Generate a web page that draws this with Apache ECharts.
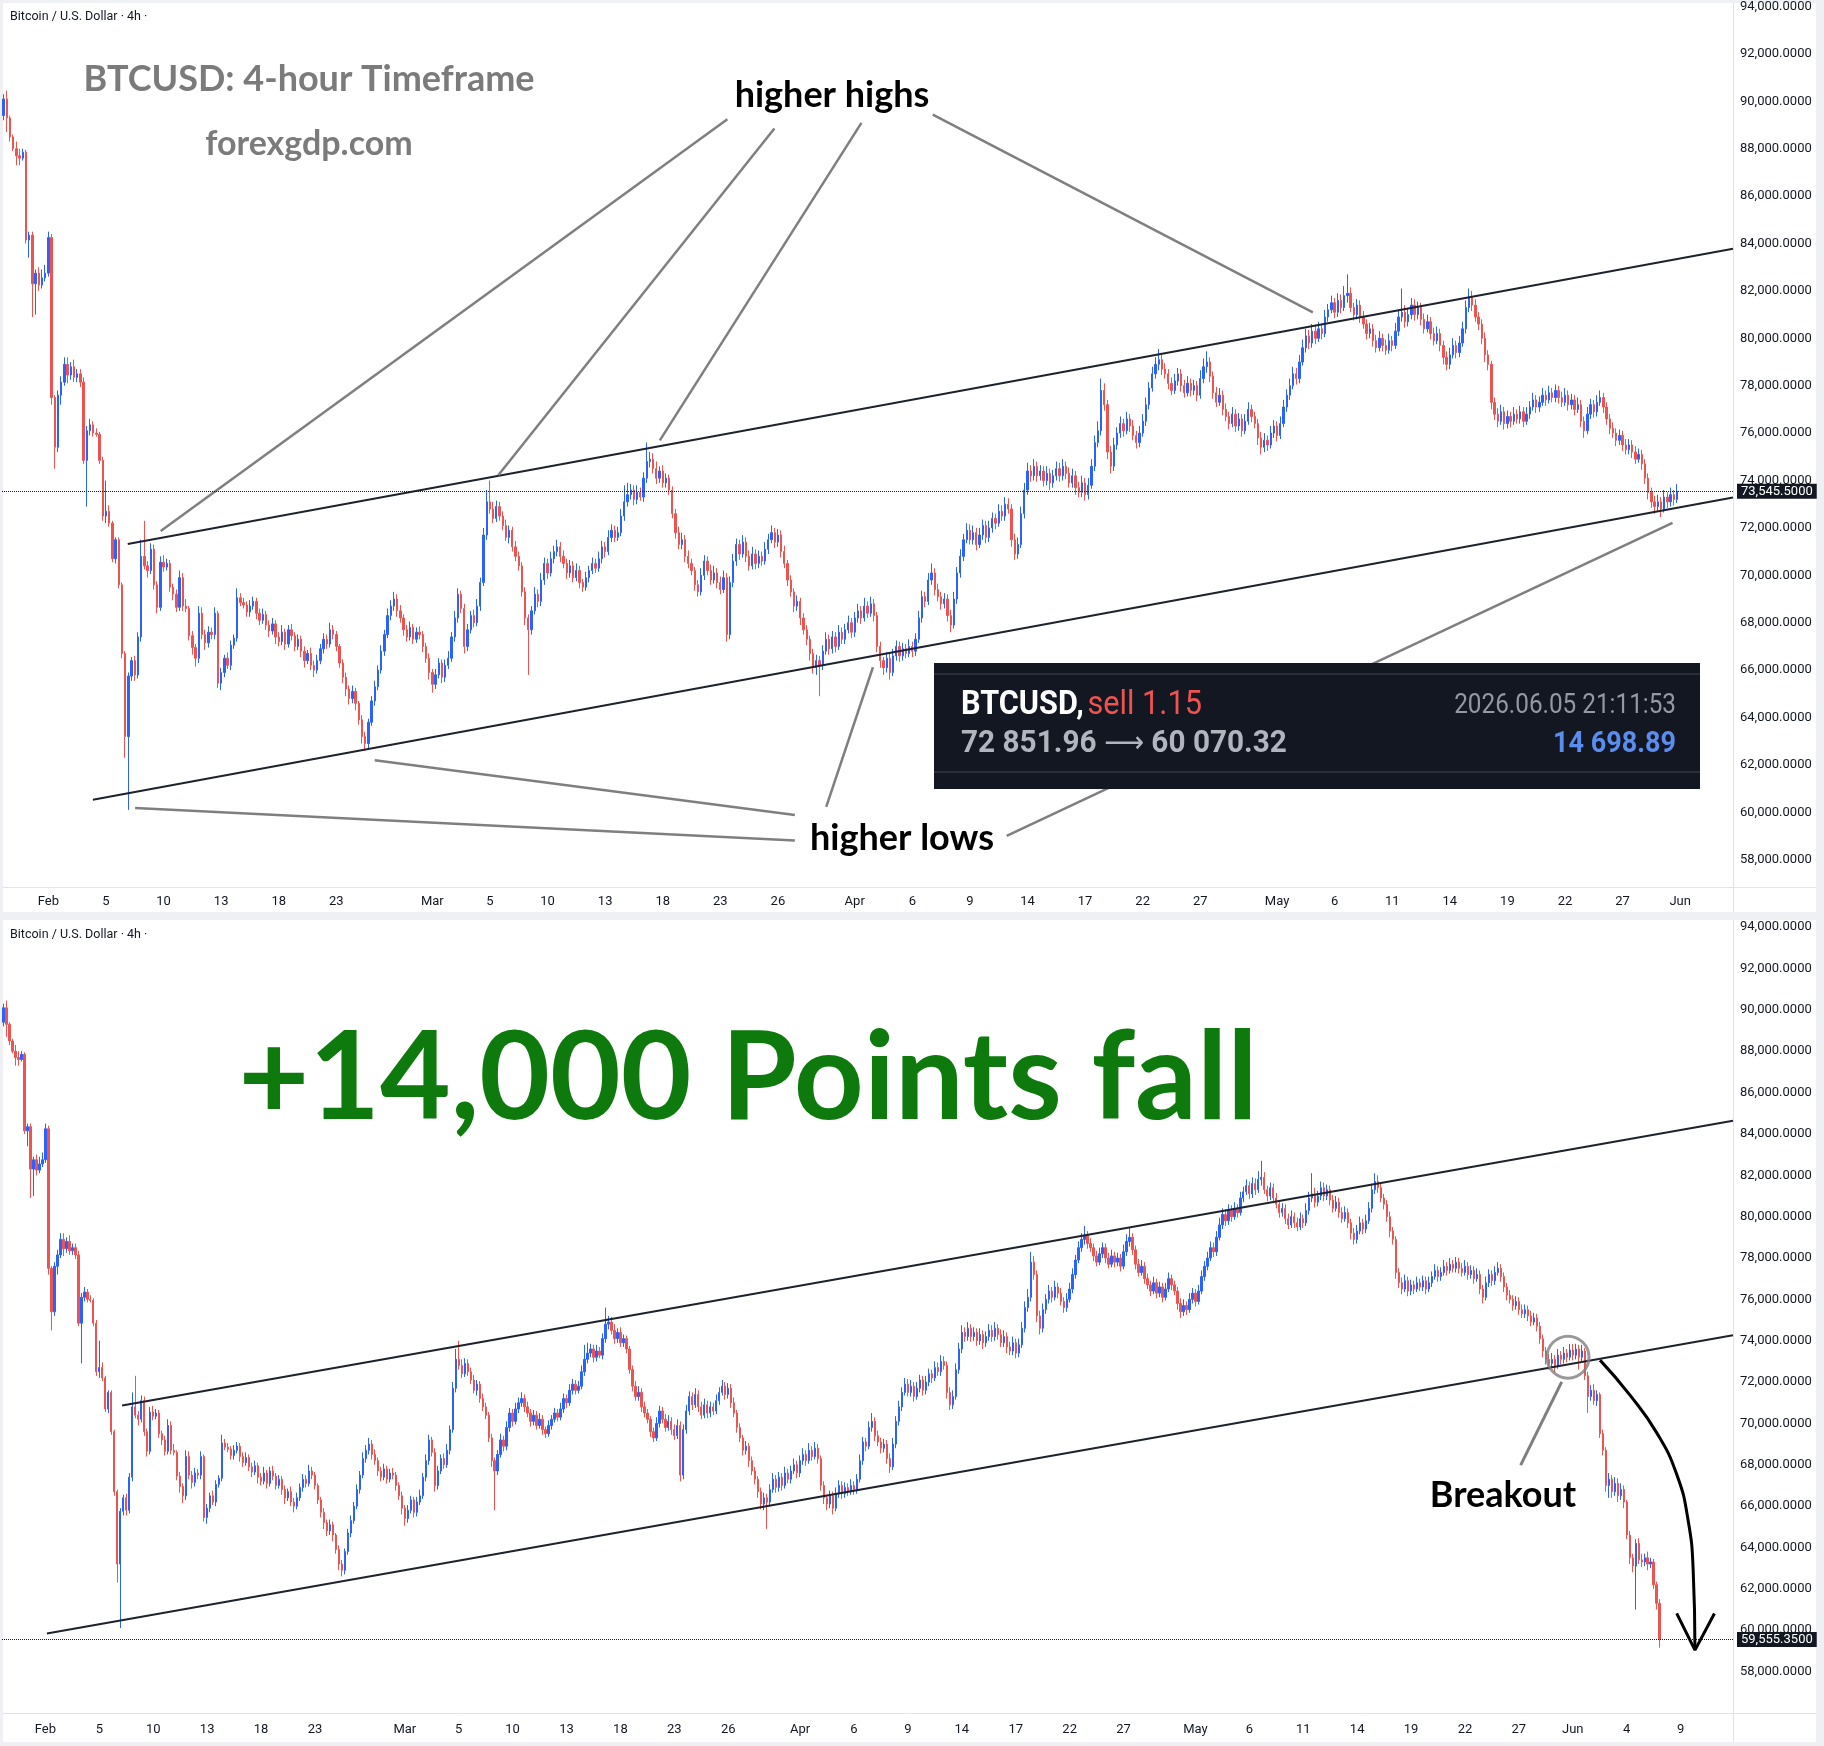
<!DOCTYPE html>
<html><head><meta charset="utf-8">
<script src="https://cdn.jsdelivr.net/npm/echarts@6/dist/echarts.min.js"></script>
<style>html,body{margin:0;padding:0;background:#eef0f3}#chart{width:1824px;height:1746px}</style>
</head><body><div id="chart"></div>
<script>
// ---------------- DATA (4h candles, weekdays, from 2026-01-28 16:00) ----------------
const firstOpen = 89400;
const closes = [
90100,89300,88500,88000,87700,87600,87850,84150,84350,82300,
82750,82250,82550,82750,84250,77500,75400,77600,78150,78900,
78450,78800,78350,78500,78150,74850,76100,76350,76000,75950,
74850,72500,72700,72200,70700,71500,69600,66700,63200,65750,
66400,65800,67400,70800,70400,70200,71100,69600,68650,70550,
70350,70500,69500,69200,68650,69900,68700,68600,67450,66950,
66500,68400,67500,67150,67600,67500,68400,65450,65900,66500,
66200,67050,67350,69050,68850,68750,68450,68700,68900,68400,
68100,68350,67900,67650,67950,67400,67200,67600,67100,67700,
67450,67000,67300,66800,66400,66700,66200,66000,66400,66900,
67300,67100,67700,67500,67000,66300,65700,65200,64800,65100,
64600,63900,63200,62900,63800,64700,65300,66000,66800,67500,
68300,68700,69000,68500,68200,67700,67400,67800,67300,67600,
67500,67000,66500,65900,65400,65800,66300,65700,66200,66500,
67400,68200,69200,68600,67000,67700,68300,68000,68700,69700,
71700,73100,72800,72400,72900,72500,72100,71600,71900,71200,
70800,70400,69300,68200,67700,68500,69200,68900,69800,70500,
70100,70700,71000,71200,70800,70500,70100,70400,69900,70200,
69700,69500,69900,70200,70500,70300,70700,71200,71000,71600,
71900,71600,71800,72500,73100,73400,73600,73200,73500,73300,
74100,74800,74900,74500,74100,74400,73900,74100,73600,72600,
71800,71300,71500,70800,70500,70200,69600,69300,70000,70600,
70200,69800,70100,69700,69400,69900,67500,69700,70600,71300,
70900,71400,70800,70400,70900,70500,70800,70600,71100,71500,
71800,71400,71700,71000,70500,69800,69300,68700,68900,68200,
67700,67300,66700,66100,66400,66200,66800,67300,66900,67400,
67000,67600,67300,67700,68000,67600,68200,68500,68200,68700,
68400,68800,68300,67000,66400,66100,66500,65900,66600,67000,
66600,66900,66700,67000,66800,67300,68200,69100,68900,69800,
70100,69400,69100,68800,69000,68300,67900,69000,70100,70800,
71500,71900,71500,71800,71300,71700,72100,71600,72000,72400,
72200,72700,72500,73000,72800,71500,70900,71300,72600,73600,
74400,74200,74600,74200,74400,74000,74300,73900,74200,74500,
74200,74600,74300,73900,74200,73700,73500,73900,73400,73800,
74600,75600,76100,77800,77200,75200,74600,75500,76000,76400,
76100,76600,76300,75900,75600,76000,76500,77200,77900,78500,
78900,79100,78700,78500,78100,77800,78200,78500,78000,77700,
78100,77800,78000,77600,78300,78800,79000,78400,77700,77300,
77600,77000,76700,76400,76800,76300,76600,76100,76500,77000,
76700,76400,75800,75400,75700,75500,76000,76300,75900,76400,
77100,77600,78000,78500,78300,79000,79600,80100,79800,80300,
80000,80400,80200,80900,81200,81500,81100,81600,81300,81800,
81900,81300,81000,81400,80900,80600,80200,80400,79900,79600,
80000,79700,79500,79900,79700,80300,80900,81100,80700,81000,
81400,81000,81300,80800,80400,80700,80200,79900,80200,79700,
79200,78900,79300,79700,79400,79800,80400,81300,81700,81400,
80900,80600,80000,79300,78900,77300,76800,76500,76900,76400,
76700,76500,76800,76600,76900,76500,76800,77100,77400,77100,
77300,77600,77400,77700,77500,77800,77500,77300,77600,77200,
77400,77000,77200,76500,76100,76800,77200,76900,77300,77500,
77100,76600,76200,76000,75700,75900,75500,75300,75500,75200,
74900,75100,74700,74100,73500,73100,72900,73100,72800,73300,
73100,73400,73200,73545.5,73300,73600,73200,73500,72300,71300,
71600,71100,71400,69500,68700,67000,67300,66700,67100,66500,
66800,66200,64600,63500,63100,64200,63400,63300,63500,63200,
63300,62200,61300,59555.35
];
const upWick = [
200,350,100,100,300,300,150,100,150,150,
150,250,350,350,250,150,100,200,250,300,
300,200,300,200,200,200,200,250,150,200,
100,150,1300,250,100,100,100,100,100,150,
150,200,200,700,1500,200,250,200,150,250,
300,200,150,150,200,300,200,300,100,200,
150,300,250,200,250,200,250,100,200,150,
250,200,150,400,200,200,150,250,200,150,
200,250,150,200,250,150,200,300,150,200,
250,150,200,150,200,150,250,200,250,200,
250,200,300,200,150,100,150,200,150,250,
150,100,200,200,150,200,250,200,250,200,
300,250,300,200,250,150,200,250,150,200,
250,150,150,200,150,250,200,150,250,300,
200,300,250,150,200,250,200,250,300,200,
300,500,900,300,250,200,200,250,200,150,
250,200,150,200,150,200,300,200,300,250,
200,300,250,300,200,250,200,250,200,300,
200,150,250,200,250,200,300,250,200,300,
250,200,250,300,700,500,250,200,300,200,
250,800,300,250,300,200,250,200,150,150,
200,250,300,200,250,200,150,200,300,250,
200,250,300,200,250,300,200,250,300,250,
200,300,200,250,300,200,250,200,300,250,
300,200,250,200,250,150,200,150,250,150,
200,200,150,200,250,200,250,300,200,250,
200,300,200,250,300,200,250,300,200,350,
200,300,200,150,200,150,250,200,300,250,
200,250,200,300,200,250,300,250,200,300,
400,200,250,200,250,200,250,300,250,300,
250,300,250,300,200,300,250,200,300,250,
200,300,250,300,250,200,250,300,300,300,
350,250,300,200,250,200,300,200,250,300,
250,300,200,250,300,200,250,300,200,300,
300,300,400,500,300,200,250,300,250,300,
200,300,200,250,200,300,300,300,250,300,
300,450,200,250,200,250,300,250,200,250,
300,200,250,200,350,350,450,200,200,250,
300,200,250,200,300,200,250,200,300,300,
200,200,200,250,300,200,300,250,200,300,
300,250,300,300,250,300,350,300,250,300,
250,300,200,300,250,300,200,300,250,400,
800,250,200,250,200,250,200,250,200,250,
300,200,250,300,200,350,300,1000,300,250,
300,250,250,200,250,300,200,250,300,200,
200,250,300,300,200,300,300,300,400,300,
250,200,200,250,200,150,200,250,300,200,
250,200,300,200,250,200,300,250,300,200,
250,300,200,300,200,250,200,250,300,200,
250,200,300,200,200,300,250,200,300,300,
200,200,200,250,200,250,200,250,250,200,
250,250,200,200,200,200,250,300,200,300,
200,300,200,300,300,250,200,300,150,200,
250,300,200,100,200,150,300,200,300,250,
300,200,100,200,200,200,250,300,200,300,
200,150,150,200
];
const downWick = [
200,600,200,100,400,300,100,150,750,1400,
1300,250,150,150,150,300,900,200,400,150,
350,200,200,200,200,150,1950,200,150,100,
150,200,300,150,150,200,150,200,900,3100,
200,250,150,200,150,300,150,200,250,150,
200,150,200,250,200,150,200,150,200,300,
350,200,200,300,200,200,200,200,300,200,
150,200,150,150,150,150,200,200,150,250,
200,150,200,250,150,300,200,150,250,150,
200,200,150,250,300,150,200,300,150,150,
200,200,150,200,200,200,250,300,250,200,
300,200,300,300,200,150,200,150,150,200,
150,200,200,250,200,250,200,150,200,150,
200,250,200,300,350,200,150,250,200,150,
150,200,200,200,300,200,150,200,150,200,
150,200,200,200,150,200,200,150,250,200,
200,200,200,300,1900,200,150,250,200,200,
250,150,200,200,250,200,250,200,200,150,
250,200,150,200,150,200,150,200,250,150,
200,200,150,150,200,200,200,250,200,150,
200,200,250,200,250,200,200,200,200,200,
250,200,200,250,200,200,250,200,150,200,
200,200,150,250,200,150,300,200,200,200,
250,150,250,200,150,250,200,200,150,200,
150,250,200,250,200,250,200,250,200,300,
200,250,300,250,300,1300,200,150,250,200,
250,150,200,200,150,250,200,200,250,150,
200,150,250,250,300,300,200,300,150,200,
250,200,200,150,250,200,150,200,250,150,
200,250,200,250,200,250,300,150,200,200,
200,150,200,200,250,150,200,250,200,200,
250,150,200,200,200,300,250,200,150,200,
200,250,200,250,200,250,200,300,200,200,
250,200,250,200,200,300,200,200,250,200,
150,200,200,200,250,300,300,200,200,200,
250,150,250,200,250,200,150,200,200,150,
200,250,250,200,250,200,150,200,250,200,
150,250,200,250,150,200,250,250,250,200,
150,250,200,250,150,250,200,250,150,150,
250,200,300,300,200,250,150,200,250,150,
150,200,200,150,250,200,150,200,250,200,
250,150,250,150,200,150,250,200,250,150,
300,200,250,200,250,200,250,200,250,200,
150,250,200,150,250,150,200,200,250,200,
200,250,200,250,200,150,250,200,150,250,
300,250,200,150,250,200,150,200,200,250,
200,250,250,300,250,300,250,250,150,250,
200,250,150,200,200,250,150,200,150,250,
200,150,250,150,200,200,250,200,150,250,
200,250,150,250,300,150,200,250,200,150,
250,250,250,200,250,200,250,200,200,250,
200,150,250,250,300,250,300,200,350,150,
250,200,250,150,250,200,600,200,200,800,
200,200,250,200,250,300,600,300,200,300,
200,300,200,300,300,2100,200,250,200,300,
200,200,300,400
];
const TOP_COUNT = 524;   // candles shown in the upper panel (to 29 May)
const N_TOP = 541, N_BOT = 578; // category slots incl. right margin

const tickDays = ['2026-02-02','2026-02-05','2026-02-10','2026-02-13','2026-02-18','2026-02-23',
 '2026-03-02','2026-03-05','2026-03-10','2026-03-13','2026-03-18','2026-03-23','2026-03-26',
 '2026-04-01','2026-04-06','2026-04-09','2026-04-14','2026-04-17','2026-04-22','2026-04-27',
 '2026-05-01','2026-05-06','2026-05-11','2026-05-14','2026-05-19','2026-05-22','2026-05-27',
 '2026-06-01','2026-06-04','2026-06-09'];
const tickTexts = ['Feb','5','10','13','18','23','Mar','5','10','13','18','23','26',
 'Apr','6','9','14','17','22','27','May','6','11','14','19','22','27','Jun','4','9'];

// annotations: [candle index, price]
const topUpperChannel = [[38.8, 71320], [540.5, 83778]];
const topLowerChannel = [[27.9, 60530], [540.5, 73280]];
const topHighPointers = [
  [[226.2, 89240], [49.1, 71865]],
  [[240.9, 88850], [154.6, 74220]],
  [[268.1, 89090], [205.1, 75690]],
  [[290.4, 89440], [409.2, 81090]]
];
const topLowPointers = [
  [[41.1, 60180], [247.3, 58810]],
  [[116.0, 62200], [247.3, 59890]],
  [[257.1, 60230], [271.7, 66120]],
  [[313.5, 59010], [521.6, 72210]]
];
const botUpperChannel = [[39.6, 70870], [577.5, 84633]];
const botLowerChannel = [[14.5, 59845], [577.5, 74269]];
const botCircle = [522.4, 73205];
const botBreakoutPointer = [[520.3, 72011], [506.6, 67983]];
const botArrowCurve = [[533.1,73060],[543.1,71367],[552.1,69530],[558.8,67499],[562.5,65323],[564.2,62905],[564.8,59036]];
const botArrowHead = [[558.7,60810],[564.8,59036],[571.3,60810]];

// ---------------- BUILD ----------------
const UP = '#2962ff', DOWN = '#ef5350';
function buildCategories(n){
  const cats = []; let d = new Date(Date.UTC(2026,0,28)); let slot = 4;
  while (cats.length < n){
    const dow = d.getUTCDay();
    if (dow !== 0 && dow !== 6){
      for (; slot < 6 && cats.length < n; slot++){
        cats.push(d.toISOString().slice(0,10) + ' ' + String(slot*4).padStart(2,'0') + ':00');
      }
      slot = 0;
    }
    d = new Date(d.getTime() + 86400000);
  }
  return cats;
}
const tickMap = new Map();
tickDays.forEach((d,i)=>tickMap.set(d+' 00:00', tickTexts[i]));
function buildOHLC(n){
  const out = [];
  for (let i=0;i<n;i++){
    const o = i===0 ? firstOpen : closes[i-1];
    const c = closes[i];
    out.push([o, c, Math.min(o,c)-downWick[i], Math.max(o,c)+upWick[i]]);
  }
  return out;
}
const fmtPrice = v => { const s = Number(v).toFixed(4).split('.'); return s[0].replace(/\B(?=(\d{3})+(?!\d))/g, ',') + '.' + s[1]; };

const catsTop = buildCategories(N_TOP), catsBot = buildCategories(N_BOT);
const ohlcTop = buildOHLC(TOP_COUNT), ohlcBot = buildOHLC(closes.length);
const lastTop = closes[TOP_COUNT-1], lastBot = closes[closes.length-1];

const FONT = 'Roboto, "Liberation Sans", sans-serif';
const xCat = (grid, cats, offset, margin) => ({
  type:'category', gridIndex:grid, data:cats, boundaryGap:true, offset:offset,
  axisLine:{show:false}, axisTick:{show:false}, splitLine:{show:false},
  axisLabel:{interval:(i,v)=>tickMap.has(v), formatter:v=>tickMap.get(v)||'', margin:margin,
    color:'#131722', fontSize:13, fontFamily:FONT}
});
const xVal = (grid, n) => ({type:'value', gridIndex:grid, min:-0.5, max:n-0.5, show:false});
const yAx = (grid, max, showMax) => ({
  type:'value', gridIndex:grid, position:'right', min:56000, max:max, interval:2000, scale:false,
  splitLine:{show:false}, axisLine:{show:false}, axisTick:{show:false},
  axisLabel:{showMinLabel:false, showMaxLabel:showMax, margin:7, align:'left', color:'#131722',
    fontSize:13, fontFamily:FONT, formatter:fmtPrice}
});
const candle = (xi, yi, data, last) => ({
  type:'candlestick', xAxisIndex:xi, yAxisIndex:yi, data:data, barWidth:1.8, large:false, silent:true,
  itemStyle:{color:UP, color0:DOWN, borderColor:UP, borderColor0:DOWN, borderWidth:1},
  markLine:{silent:true, symbol:['none','none'], animation:false,
    lineStyle:{type:'dotted', color:'#131722', width:1},
    label:{show:true, position:'end', distance:4, formatter:()=>fmtPrice(last), backgroundColor:'#131722',
      color:'#ffffff', fontSize:13, fontFamily:FONT, padding:[1,4,1,4]},
    data:[{yAxis:last}]}
});
const seg = (xi, yi, pairs, color, width) => ({
  type:'lines', coordinateSystem:'cartesian2d', xAxisIndex:xi, yAxisIndex:yi, silent:true, z:3,
  lineStyle:{color:color, width:width, opacity:1, curveness:0},
  data: pairs.map(p=>({coords:p}))
});
const polyline = (xi, yi, pts, color, width, smooth) => ({
  type:'line', xAxisIndex:xi, yAxisIndex:yi, data:pts, symbol:'none', silent:true, smooth:smooth||false, z:4,
  lineStyle:{color:color, width:width}
});

const TXT = 'Lato, "Open Sans", sans-serif';
const text = (x, y, str, size, color, extra) => Object.assign({
  type:'text', x:x, y:y, silent:true, z:20,
  style:{text:str, fill:color, fontSize:size, fontWeight:'bold', fontFamily:TXT, align:'center', verticalAlign:'middle'}
}, extra||{});

const option = {
  animation:false,
  backgroundColor:'#eef0f3',
  grid:[
    {left:2, top:6.1, width:1731, height:901},
    {left:2, top:885.8, width:1731, height:827.1}
  ],
  xAxis:[ xCat(0, catsTop, -19.5, 8), xVal(0, N_TOP), xCat(1, catsBot, 0, 10), xVal(1, N_BOT) ],
  yAxis:[ yAx(0, 94000, true), yAx(1, 96000, false) ],
  series:[
    candle(0, 0, ohlcTop, lastTop),
    seg(1, 0, [topUpperChannel, topLowerChannel], '#1e222d', 2),
    seg(1, 0, topHighPointers.concat(topLowPointers), '#7f7f7f', 2.5),
    candle(2, 1, ohlcBot, lastBot),
    seg(3, 1, [botUpperChannel, botLowerChannel], '#1e222d', 2),
    seg(3, 1, [botBreakoutPointer], '#7f7f7f', 3),
    {type:'scatter', xAxisIndex:3, yAxisIndex:1, data:[botCircle], symbol:'circle', symbolSize:42, silent:true, z:5,
      itemStyle:{color:'rgba(0,0,0,0)', borderColor:'#808080', borderWidth:3}},
    polyline(3, 1, botArrowCurve, '#000000', 3, 0.5),
    polyline(3, 1, botArrowHead, '#000000', 3, false)
  ],
  graphic:[
    // panels
    {type:'rect', z:-10, silent:true, shape:{x:3, y:3, width:1813, height:909}, style:{fill:'#ffffff'}},
    {type:'rect', z:-10, silent:true, shape:{x:3, y:920, width:1813, height:822}, style:{fill:'#ffffff'}},
    {type:'line', z:-5, silent:true, shape:{x1:1733.5, y1:3, x2:1733.5, y2:912}, style:{stroke:'#e0e3eb', lineWidth:1}},
    {type:'line', z:-5, silent:true, shape:{x1:3, y1:887.5, x2:1816, y2:887.5}, style:{stroke:'#e0e3eb', lineWidth:1}},
    {type:'line', z:-5, silent:true, shape:{x1:1733.5, y1:920, x2:1733.5, y2:1742}, style:{stroke:'#e0e3eb', lineWidth:1}},
    {type:'line', z:-5, silent:true, shape:{x1:3, y1:1713.5, x2:1816, y2:1713.5}, style:{stroke:'#e0e3eb', lineWidth:1}},
    // headers
    {type:'text', x:10, y:17, z:20, silent:true, style:{text:'Bitcoin / U.S. Dollar · 4h ·', fill:'#131722', fontSize:12.5, fontFamily:FONT, align:'left', verticalAlign:'middle'}},
    {type:'text', x:10, y:935, z:20, silent:true, style:{text:'Bitcoin / U.S. Dollar · 4h ·', fill:'#131722', fontSize:12.5, fontFamily:FONT, align:'left', verticalAlign:'middle'}},
    text(309, 79, 'BTCUSD: 4-hour Timeframe', 36, '#7b7b7b'),
    text(309, 144, 'forexgdp.com', 34, '#7b7b7b'),
    text(832, 95, 'higher highs', 36, '#000000'),
    text(902, 838, 'higher lows', 36, '#000000'),
    text(748, 1080, '+14,000 Points fall', 122, '#0e7a0e'),
    text(1503, 1495, 'Breakout', 36, '#000000'),
    // trade box
    {type:'rect', z:30, silent:true, shape:{x:934, y:663, width:766, height:126}, style:{fill:'#131722'}},
    {type:'line', z:31, silent:true, shape:{x1:934, y1:674, x2:1700, y2:674}, style:{stroke:'#2a2e39', lineWidth:2}},
    {type:'line', z:31, silent:true, shape:{x1:934, y1:772, x2:1700, y2:772}, style:{stroke:'#2a2e39', lineWidth:2}},
    {type:'text', x:961, y:706, z:32, silent:true, scaleX:0.93,
      style:{text:'{a|BTCUSD,}{b|sell 1.15}', align:'left', verticalAlign:'middle',
        rich:{a:{fill:'#ffffff', fontSize:33, fontWeight:'bold', fontFamily:FONT, padding:[0,4,0,0]},
              b:{fill:'#ef5350', fontSize:33, fontFamily:FONT}}}},
    {type:'text', x:961, y:744, z:32, silent:true, scaleX:0.93,
      style:{text:'{n|72 851.96 }{r|⟶}{n| 60 070.32}', align:'left', verticalAlign:'middle',
        rich:{n:{fill:'#b2b5be', fontSize:32, fontWeight:'bold', fontFamily:FONT},
              r:{fill:'#b2b5be', fontSize:30, fontFamily:'"DejaVu Sans", sans-serif'}}}},
    {type:'text', x:1676, y:706, z:32, silent:true, scaleX:0.9,
      style:{text:'2026.06.05 21:11:53', fill:'#9598a1', fontSize:27, fontFamily:FONT, align:'right', verticalAlign:'middle'}},
    {type:'text', x:1676, y:744, z:32, silent:true, scaleX:0.9,
      style:{text:'14 698.89', fill:'#5b8def', fontSize:30, fontWeight:'bold', fontFamily:FONT, align:'right', verticalAlign:'middle'}}
  ]
};
const chart = echarts.init(document.getElementById('chart'), null, {renderer:'canvas'});
chart.setOption(option);
</script></body></html>
